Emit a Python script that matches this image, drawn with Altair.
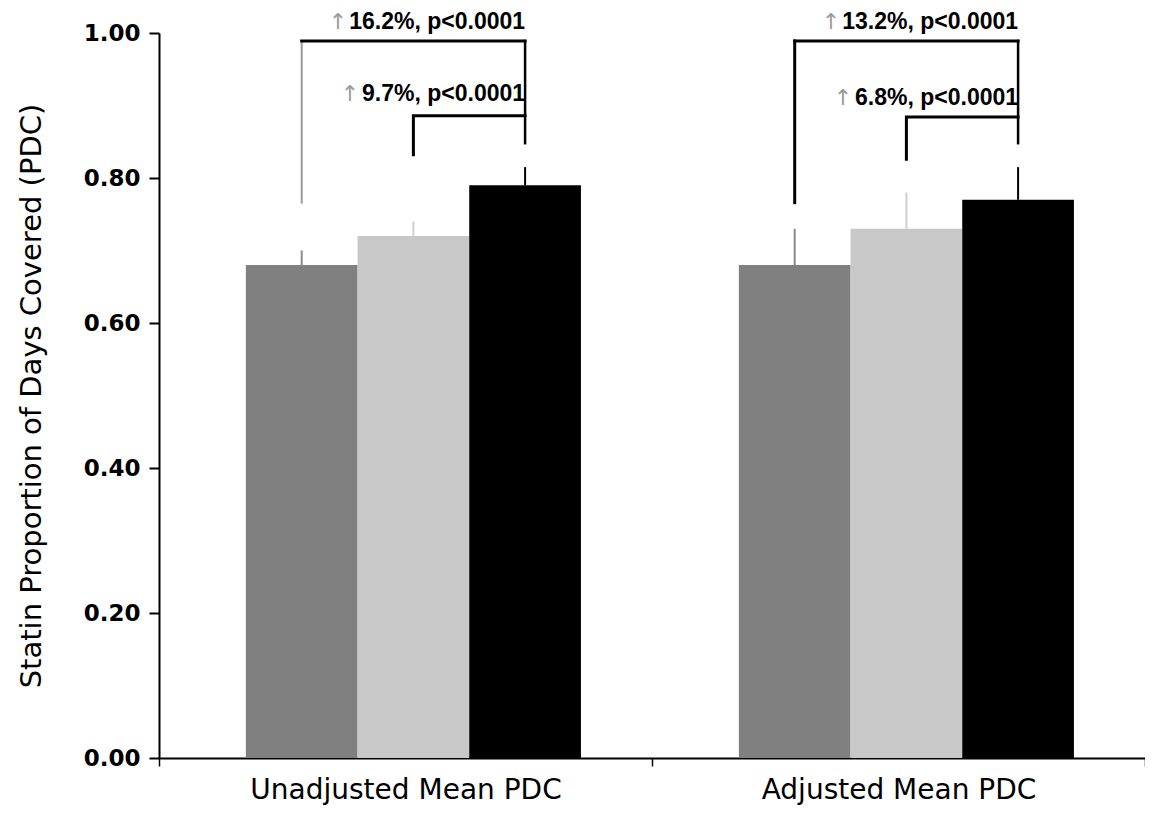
import altair as alt
import pandas as pd

# ---- data ----
groups = ["Unadjusted Mean PDC", "Adjusted Mean PDC"]
series = ["s1", "s2", "s3"]
bar_colors = ["#808080", "#c8c8c8", "#000000"]
err_colors = ["#8a8a8a", "#cfcfcf", "#000000"]

unadjusted_pdc = [0.68, 0.72, 0.79]
adjusted_pdc = [0.68, 0.73, 0.77]
unadjusted_err_top = [0.70, 0.74, 0.815]
adjusted_err_top = [0.73, 0.78, 0.815]

# bracket segments: group, start series, start y, (corner y), end series, end y, colour, width
seg_group = [groups[0]] * 4 + [groups[1]] * 4
seg_from_s = ["s1", "s1", "s3", "s2"] * 2
seg_from_y = [0.766, 0.989, 0.989, 0.832, 0.766, 0.989, 0.989, 0.826]
seg_to_s = ["s1", "s3", "s3", "s3"] * 2
seg_to_y = [0.989, 0.989, 0.848, 0.886, 0.989, 0.989, 0.848, 0.884]
seg_color = ["#9a9a9a", "#000000", "#000000", "#000000"] + ["#000000"] * 4
seg_width = [2, 3, 2.5, 3] + [3, 3, 2.5, 3]
seg_leg2_y = [None, None, None, 0.886, None, None, None, 0.884]

ann_group = [groups[0], groups[0], groups[1], groups[1]]
ann_text = ["16.2%, p<0.0001", "9.7%, p<0.0001", "13.2%, p<0.0001", "6.8%, p<0.0001"]
ann_y = [1.006, 0.906, 1.005, 0.901]
ann_level = ["big", "small", "big", "small"]

YTITLE = "Statin Proportion of Days Covered (PDC)"

# ---- tables ----
bars_df = pd.DataFrame({
    "group": [g for g in groups for _ in series],
    "series": series * 2,
    "pdc": unadjusted_pdc + adjusted_pdc,
    "err": unadjusted_err_top + adjusted_err_top,
})

rows = []
for i in range(len(seg_group)):
    rows.append({"seg": i, "ord": 0, "group": seg_group[i], "series": seg_from_s[i],
                 "y": seg_from_y[i], "c": seg_color[i], "w": seg_width[i]})
    rows.append({"seg": i, "ord": 1, "group": seg_group[i],
                 "series": seg_from_s[i] if seg_leg2_y[i] else seg_to_s[i],
                 "y": seg_leg2_y[i] if seg_leg2_y[i] else seg_to_y[i],
                 "c": seg_color[i], "w": seg_width[i]})
    if seg_leg2_y[i]:
        rows.append({"seg": i, "ord": 2, "group": seg_group[i], "series": seg_to_s[i],
                     "y": seg_to_y[i], "c": seg_color[i], "w": seg_width[i]})
seg_df = pd.DataFrame(rows)

ann_df = pd.DataFrame({"group": ann_group, "text": ann_text, "ty": ann_y,
                       "level": ann_level, "series": ["s3"] * 4, "arrow": ["\u2191"] * 4})

# ---- encodings ----
x_enc = alt.X("group:N", sort=groups, title=None,
              scale=alt.Scale(paddingInner=0, paddingOuter=0),
              axis=alt.Axis(labelFont="DejaVu Sans", labelFontSize=28, labelColor="black",
                            labelAngle=0, labelPadding=10, labelLimit=0, tickBand="extent",
                            tickSize=8, tickColor="black", tickWidth=1.5, domainColor="black",
                            domainWidth=2, grid=False))
xo_enc = alt.XOffset("series:N", sort=series,
                     scale=alt.Scale(paddingInner=0, paddingOuter=0.707, align=0.55))

y_axis = alt.Axis(values=[0, 0.2, 0.4, 0.6, 0.8, 1.0], format=".2f",
                  titleFont="DejaVu Sans", titleFontSize=29, titleFontWeight="normal",
                  titleColor="black", titlePadding=37,
                  labelFont="DejaVu Sans", labelFontWeight="bold", labelFontSize=23,
                  labelColor="black", labelPadding=9, tickSize=10, tickColor="black",
                  tickWidth=2, domainColor="black", domainWidth=2, grid=False)
y_scale = alt.Scale(domain=[0, 1], nice=False, zero=True)

color_enc = alt.Color("series:N", scale=alt.Scale(domain=series, range=bar_colors), legend=None)

base = alt.Chart(bars_df)
bars = base.mark_bar().encode(
    x=x_enc, xOffset=xo_enc,
    y=alt.Y("pdc:Q", scale=y_scale, axis=y_axis, title=YTITLE),
    color=color_enc,
)
errs = base.mark_rule(strokeWidth=2).encode(
    x=x_enc, xOffset=xo_enc,
    y=alt.Y("pdc:Q", scale=y_scale, title=YTITLE),
    y2="err:Q",
    color=alt.Color("series:N", scale=alt.Scale(domain=series, range=err_colors), legend=None),
)

brackets = alt.Chart(seg_df).mark_line(strokeCap="square").encode(
    x=x_enc, xOffset=xo_enc,
    y=alt.Y("y:Q", scale=y_scale, title=YTITLE),
    detail="seg:N",
    order="ord:Q",
    color=alt.Color("c:N", scale=None),
    strokeWidth=alt.StrokeWidth("w:Q", scale=None),
)

ann_big = alt.Chart(ann_df).transform_filter(alt.datum.level == "big")
ann_small = alt.Chart(ann_df).transform_filter(alt.datum.level == "small")

def txt(chart):
    return chart.mark_text(align="right", baseline="alphabetic", font="Liberation Sans",
                           fontWeight="bold", fontSize=23, color="black").encode(
        x=x_enc, xOffset=xo_enc, y=alt.Y("ty:Q", scale=y_scale, title=YTITLE), text="text:N")

def arrow(chart, dx):
    return chart.mark_text(align="right", baseline="alphabetic", font="DejaVu Sans",
                           fontSize=22, color="#9a9a9a", dx=dx).encode(
        x=x_enc, xOffset=xo_enc, y=alt.Y("ty:Q", scale=y_scale, title=YTITLE), text="arrow:N")

chart = alt.layer(
    bars, errs, brackets,
    txt(ann_big), txt(ann_small),
    arrow(ann_big, -178), arrow(ann_small, -166),
).resolve_scale(color="independent").properties(
    width=986, height=725,
    autosize="none",
    padding={"left": 151, "top": 25, "right": 0, "bottom": 47},
).configure_view(stroke=None)

chart.save("out.html", embed_options={"renderer": "svg", "actions": False})
